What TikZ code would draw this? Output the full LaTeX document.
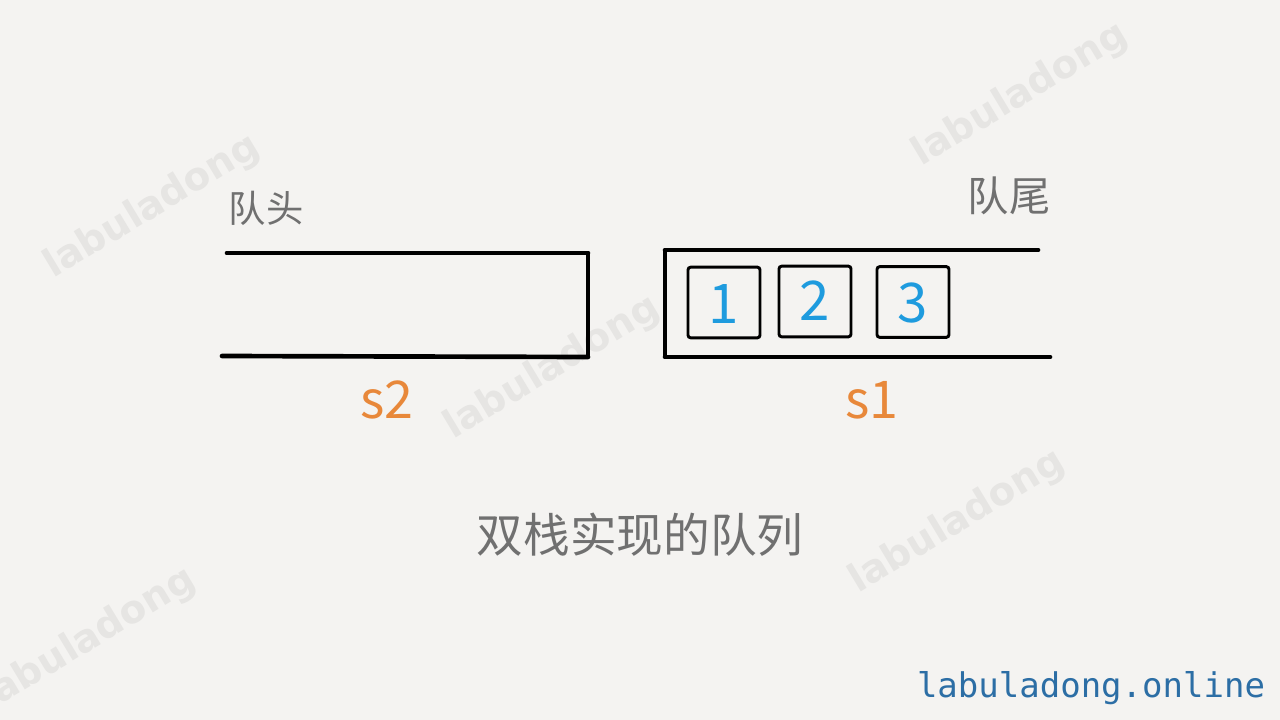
\documentclass[tikz,border=0pt]{standalone}
\usepackage{fontspec}
\setmainfont{Noto Sans CJK SC}
\newfontfamily\cjk{Noto Sans CJK SC}
\newfontfamily\wmfont{DejaVu Sans}
\newfontfamily\urlfont{DejaVu Sans Mono}
\definecolor{bg}{HTML}{F4F3F1}
\definecolor{wm}{HTML}{E6E5E3}
\definecolor{lbl}{HTML}{707070}
\definecolor{orng}{HTML}{E8883A}
\definecolor{digit}{HTML}{1E9BDE}
\definecolor{urlc}{HTML}{2C6EA5}
\tikzset{
  wmark/.style={text=wm, font=\wmfont\bfseries\fontsize{29}{29}\selectfont, rotate=31, inner sep=0pt},
  stackline/.style={line width=3.5pt, line cap=round, black},
  sideline/.style={line width=2.4pt, black},
  cellbox/.style={draw=black, line width=2.2pt, rounded corners=2pt, minimum width=54pt, minimum height=53pt, inner sep=0pt},
  digittext/.style={text=digit, font=\cjk\fontsize{41}{41}\selectfont},
  headlbl/.style={text=lbl, inner sep=0pt},
  stacklbl/.style={text=orng, font=\cjk\fontsize{39}{39}\selectfont, inner sep=0pt},
}
\begin{document}
\begin{tikzpicture}[x=0.75pt,y=-0.75pt]
\fill[bg] (0,0) rectangle (1280,720);
\useasboundingbox (0,0) rectangle (1280,720);
% watermarks
\node[wmark] (wm1) at (152,207) {labuladong};
\node[wmark] (wm2) at (1020,95) {labuladong};
\node[wmark] (wm3) at (552,368) {labuladong};
\node[wmark] (wm4) at (957,522) {labuladong};
\node[wmark] (wm5) at (88,640) {labuladong};
% left stack s2
\coordinate (l1) at (227,253);
\coordinate (l2) at (588,253);
\coordinate (l3) at (588,357);
\coordinate (l4) at (222,356);
\draw[stackline] (l1) -- (l2);
\draw[sideline] (l2) -- (l3);
\draw[stackline] (l4) -- (l3);
% right stack s1
\coordinate (r1) at (1038,250);
\coordinate (r2) at (665,250);
\coordinate (r3) at (665,357);
\coordinate (r4) at (1050,357);
\draw[stackline] (r1) -- (r2);
\draw[sideline] (r2) -- (r3);
\draw[stackline] (r3) -- (r4);
% cells
\node[cellbox] (c1) at (724,302.5) {};
\node[cellbox] (c2) at (815,301.5) {};
\node[cellbox] (c3) at (913,302) {};
\node[digittext] (d1) at ([yshift=-1pt]c1.center) {1};
\node[digittext] (d2) at ([yshift=1pt]c2.center) {2};
\node[digittext] (d3) at ([yshift=-1pt]c3.center) {3};
% labels
\node[headlbl, font=\cjk\fontsize{28}{28}\selectfont] (head) at (266,208) {队头};
\node[headlbl, font=\cjk\fontsize{31}{31}\selectfont] (tail) at (1009,196) {队尾};
\node[stacklbl] (s2) at (387,400) {s2};
\node[stacklbl] (s1) at (872,400) {s1};
\node[headlbl, font=\cjk\fontsize{35}{35}\selectfont] (title) at (640,535) {双栈实现的队列};
\node[text=urlc, font=\urlfont\fontsize{25.5}{25.5}\selectfont, inner sep=0pt] (url) at (1091,688) {labuladong.online};
\end{tikzpicture}
\end{document}
